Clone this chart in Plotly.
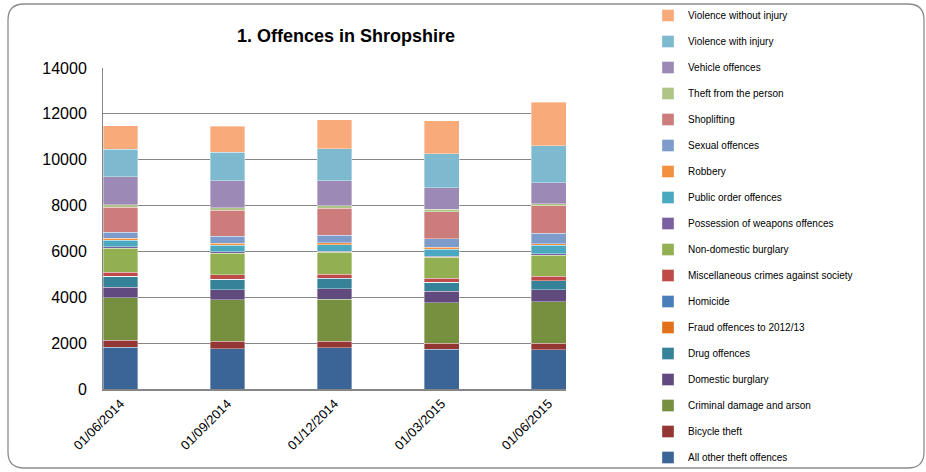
import plotly.graph_objects as go

dates = ["01/06/2014", "01/09/2014", "01/12/2014", "01/03/2015", "01/06/2015"]

# series in stacking order (bottom to top)
all_other_theft = [1820, 1747, 1791, 1733, 1704]
bicycle_theft = [306, 335, 291, 262, 291]
criminal_damage = [1849, 1820, 1835, 1761, 1820]
domestic_burglary = [466, 437, 466, 510, 509]
drug_offences = [480, 451, 436, 393, 393]
fraud_offences = [0, 0, 0, 0, 0]
homicide = [2, 1, 1, 2, 1]
misc_crimes = [160, 190, 190, 175, 204]
non_domestic_burglary = [1063, 946, 946, 903, 903]
possession_weapons = [59, 58, 58, 58, 73]
public_order = [276, 277, 277, 306, 364]
robbery = [88, 87, 87, 72, 73]
sexual_offences = [262, 306, 335, 379, 466]
shoplifting = [1092, 1150, 1180, 1179, 1193]
theft_from_person = [116, 102, 101, 102, 88]
vehicle_offences = [1209, 1165, 1078, 932, 903]
violence_with_injury = [1208, 1252, 1398, 1500, 1630]
violence_without_injury = [1019, 1136, 1281, 1441, 1888]

series = [
    ("All other theft offences", all_other_theft, "#3C6597"),
    ("Bicycle theft", bicycle_theft, "#943634"),
    ("Criminal damage and arson", criminal_damage, "#779040"),
    ("Domestic burglary", domestic_burglary, "#614A7E"),
    ("Drug offences", drug_offences, "#368399"),
    ("Fraud offences to 2012/13", fraud_offences, "#E26F19"),
    ("Homicide", homicide, "#4A7EBB"),
    ("Miscellaneous crimes against society", misc_crimes, "#BE4B48"),
    ("Non-domestic burglary", non_domestic_burglary, "#92AF52"),
    ("Possession of weapons offences", possession_weapons, "#7C5FA0"),
    ("Public order offences", public_order, "#4AA8C0"),
    ("Robbery", robbery, "#F2913F"),
    ("Sexual offences", sexual_offences, "#7E9CCB"),
    ("Shoplifting", shoplifting, "#CB7C7B"),
    ("Theft from the person", theft_from_person, "#AFC585"),
    ("Vehicle offences", vehicle_offences, "#9D89B5"),
    ("Violence with injury", violence_with_injury, "#7DB9CF"),
    ("Violence without injury", violence_without_injury, "#F9AA7A"),
]

n = len(series)
fig = go.Figure()
for i, (name, vals, col) in enumerate(series):
    fig.add_trace(go.Bar(
        x=dates, y=vals, name=name, legendgroup=f"g{i}", legendrank=n - i,
        marker=dict(color=col, line=dict(color="rgba(255,255,255,0.6)", width=0.6)),
        width=0.327,
    ))

W, H = 926, 472
L, R, T, B = 103, 360, 68, 83
pw, ph = W - L - R, H - T - B


def px(x):
    return (x - L) / pw


def py(y):
    return (H - B - y) / ph


# rounded chart border
x0, x1, y0, y1, r = 8, 924, 4, 468, 16
path = (
    f"M {px(x0)},{py(y0 + r)} "
    f"Q {px(x0)},{py(y0)} {px(x0 + r)},{py(y0)} "
    f"L {px(x1 - r)},{py(y0)} "
    f"Q {px(x1)},{py(y0)} {px(x1)},{py(y0 + r)} "
    f"L {px(x1)},{py(y1 - r)} "
    f"Q {px(x1)},{py(y1)} {px(x1 - r)},{py(y1)} "
    f"L {px(x0 + r)},{py(y1)} "
    f"Q {px(x0)},{py(y1)} {px(x0)},{py(y1 - r)} Z"
)

fig.update_layout(
    width=W, height=H,
    margin=dict(l=L, r=R, t=T, b=B, autoexpand=False),
    paper_bgcolor="white", plot_bgcolor="white",
    barmode="stack",
    font=dict(family="Liberation Sans, Arial, sans-serif", color="black"),
    title=dict(text="<b>1. Offences in Shropshire</b>", x=px(346), xanchor="center",
               xref="paper", y=1 - 36 / H, yanchor="middle", yref="container",
               font=dict(size=18, color="black")),
    xaxis=dict(type="category", range=[-0.1635, 4.1635], tickangle=-45,
               tickfont=dict(size=13), showline=True, linecolor="#868686", linewidth=2,
               ticks="", showgrid=False),
    yaxis=dict(range=[0, 14000], dtick=2000, tickfont=dict(size=16),
               showline=True, linecolor="#868686", linewidth=1,
               showgrid=True, gridcolor="#868686", gridwidth=1,
               zeroline=False, ticks="", tickformat="d", ticklabelstandoff=12),
    legend=dict(x=px(648), xanchor="left", y=py(1), yanchor="top",
                traceorder="grouped", tracegroupgap=7, maxheight=1,
                font=dict(size=10), bgcolor="rgba(0,0,0,0)"),
    shapes=[dict(type="path", xref="paper", yref="paper", path=path,
                 line=dict(color="#8C8C8C", width=1.3), fillcolor="rgba(0,0,0,0)",
                 layer="below")],
)

fig.write_html("out.html")
